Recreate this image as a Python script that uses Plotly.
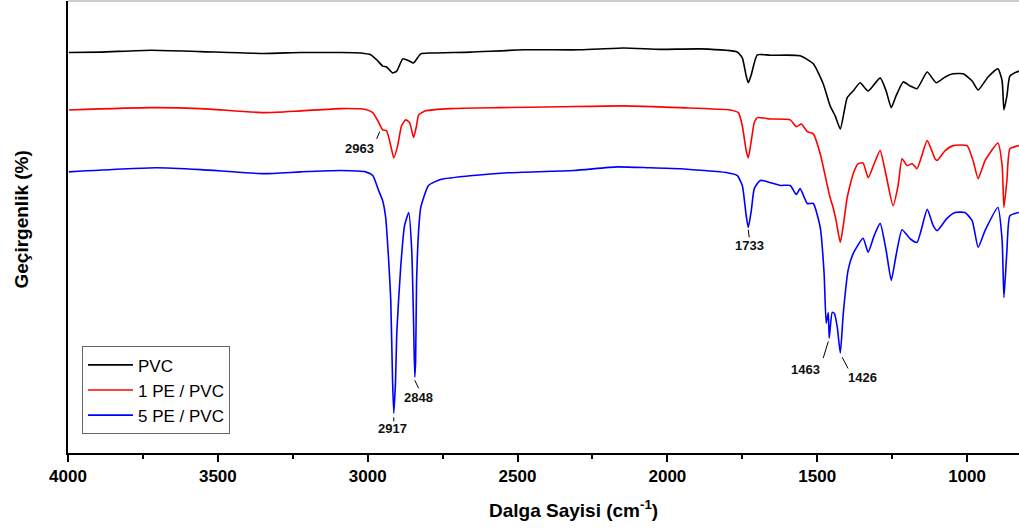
import plotly.graph_objects as go

# Wavenumber (cm-1) and transmittance (a.u.)
pvc_wn = [3997, 3890, 3723, 3557, 3347, 3223, 3090, 3023, 2990, 2967, 2950, 2937, 2917, 2903, 2883, 2863, 2847, 2823, 2790, 2657, 2480, 2290, 2147, 2023, 1890, 1767, 1750, 1737, 1730, 1720, 1700, 1657, 1557, 1513, 1480, 1457, 1440, 1423, 1400, 1380, 1357, 1330, 1290, 1270, 1253, 1237, 1213, 1190, 1167, 1133, 1103, 1073, 1047, 1013, 983, 963, 930, 897, 883, 877, 867, 857, 827]
pvc_t = [88.6, 88.7, 89.1, 88.8, 88.4, 88.6, 88.6, 88.5, 88.1, 86.8, 85.6, 85.4, 84.1, 84.5, 87.2, 86.8, 86.3, 88.3, 88.5, 88.7, 89.2, 89.2, 89.6, 89.3, 89.4, 88.7, 87.4, 83.4, 81.9, 83.7, 88.1, 88.0, 87.9, 86.1, 81.7, 76.8, 74.6, 71.7, 78.6, 80.1, 81.9, 80.1, 83.0, 80.1, 76.4, 79.0, 82.1, 81.2, 80.6, 84.3, 81.9, 83.2, 83.9, 83.9, 82.3, 80.3, 83.2, 85.0, 82.3, 75.9, 79.0, 83.4, 84.5]

pe1_wn = [3997, 3723, 3557, 3347, 3223, 3090, 3007, 2983, 2963, 2950, 2937, 2923, 2913, 2900, 2887, 2873, 2860, 2847, 2837, 2830, 2807, 2723, 2557, 2357, 2147, 1957, 1790, 1763, 1750, 1737, 1730, 1720, 1710, 1700, 1657, 1590, 1570, 1553, 1533, 1513, 1490, 1470, 1457, 1447, 1437, 1423, 1413, 1400, 1380, 1363, 1347, 1330, 1310, 1290, 1270, 1247, 1230, 1217, 1200, 1183, 1167, 1133, 1107, 1100, 1073, 1047, 1000, 980, 963, 940, 897, 883, 877, 867, 857, 827]
pe1_t = [75.9, 76.4, 76.2, 75.3, 75.7, 76.2, 76.0, 75.3, 73.1, 71.5, 71.3, 68.0, 65.3, 68.0, 72.4, 73.7, 73.1, 69.8, 72.4, 74.8, 75.7, 76.2, 76.4, 76.6, 76.8, 76.4, 75.9, 75.3, 72.4, 66.9, 65.3, 69.1, 73.1, 74.2, 73.9, 73.7, 72.2, 72.8, 71.1, 70.6, 66.2, 60.3, 56.5, 54.3, 51.4, 46.6, 50.3, 56.5, 61.8, 64.0, 64.2, 60.9, 64.0, 66.9, 61.4, 54.7, 59.2, 65.1, 63.6, 64.0, 62.9, 69.1, 65.1, 64.7, 66.9, 68.0, 68.0, 64.7, 60.7, 64.7, 68.6, 63.6, 54.3, 60.3, 67.3, 68.0]

pe5_wn = [3997, 3707, 3557, 3347, 3223, 3090, 3007, 2983, 2963, 2950, 2940, 2930, 2923, 2917, 2913, 2907, 2903, 2890, 2877, 2863, 2853, 2847, 2843, 2840, 2837, 2830, 2823, 2797, 2757, 2647, 2533, 2313, 2167, 2057, 1957, 1800, 1767, 1750, 1737, 1730, 1720, 1710, 1690, 1623, 1590, 1570, 1557, 1533, 1513, 1490, 1477, 1470, 1463, 1460, 1450, 1443, 1433, 1423, 1413, 1397, 1380, 1347, 1330, 1310, 1290, 1270, 1253, 1237, 1217, 1190, 1167, 1133, 1113, 1100, 1067, 1040, 1007, 983, 963, 940, 897, 883, 877, 867, 857, 827]
pe5_t = [62.2, 63.1, 62.7, 61.8, 62.2, 62.5, 62.2, 61.4, 58.0, 55.8, 52.1, 42.6, 33.8, 16.1, 8.8, 16.1, 26.5, 41.0, 50.3, 53.2, 44.8, 29.3, 16.8, 20.5, 37.5, 49.2, 54.3, 59.2, 60.5, 61.4, 62.0, 62.5, 63.3, 63.1, 62.9, 62.0, 61.4, 59.2, 52.5, 49.9, 53.6, 58.5, 60.3, 59.2, 59.2, 57.2, 58.5, 55.2, 55.2, 49.9, 39.7, 28.7, 31.1, 25.4, 31.1, 30.9, 27.8, 22.1, 30.9, 40.4, 44.1, 47.5, 44.4, 48.1, 50.8, 44.8, 38.2, 43.7, 49.4, 47.4, 46.6, 53.9, 50.3, 49.2, 51.9, 53.2, 53.2, 51.4, 45.5, 49.2, 54.3, 47.0, 34.4, 44.8, 52.5, 53.2]

# Peak labels: text, text position, leader line (start, end)
peak_labels = ["2963", "2917", "2848", "1733", "1463", "1426"]
label_wn = [3027, 2917, 2830, 1727, 1540, 1350]
label_t = [67.3, 5.5, 12.3, 45.9, 18.5, 16.8]
leader_wn0 = [2970, 2913, 2843, 1730, 1463, 1417]
leader_t0 = [69.5, 7.9, 16.1, 49.4, 24.7, 21.2]
leader_wn1 = [2960, 2913, 2830, 1727, 1480, 1397]
leader_t1 = [71.1, 7.0, 14.3, 47.7, 21.0, 18.7]

series_names = ["PVC", "1 PE / PVC", "5 PE / PVC"]
series_colors = ["#000000", "#ff0000", "#0000ff"]

FONT = "Arial, Liberation Sans"

fig = go.Figure()
for name, color, xs, ys in zip(series_names, series_colors,
                               [pvc_wn, pe1_wn, pe5_wn], [pvc_t, pe1_t, pe5_t]):
    fig.add_trace(go.Scatter(x=xs, y=ys, mode="lines", name=name,
                             line=dict(color=color, width=1.6, shape="spline", smoothing=0.5)))

for txt, x, y in zip(peak_labels, label_wn, label_t):
    fig.add_annotation(x=x, y=y, text=f"<b>{txt}</b>", showarrow=False,
                       font=dict(family=FONT, size=13, color="#111"),
                       xref="x", yref="y")
for x0, y0, x1, y1 in zip(leader_wn0, leader_t0, leader_wn1, leader_t1):
    fig.add_shape(type="line", x0=x0, y0=y0, x1=x1, y1=y1, xref="x", yref="y",
                  line=dict(color="#000", width=1))

# axis titles
fig.add_annotation(x=0.532, y=-0.1236, xref="paper", yref="paper", showarrow=False,
                   xanchor="center", yanchor="middle",
                   text="<b>Dalga Sayisi (cm<sup>-1</sup>)</b>",
                   font=dict(family=FONT, size=19, color="#000"))
fig.add_annotation(x=-0.0494, y=0.5166, xref="paper", yref="paper", showarrow=False,
                   xanchor="center", yanchor="middle",
                   text="<b>Geçirgenlik (%)</b>", textangle=-90,
                   font=dict(family=FONT, size=19, color="#000"))

# top frame line
fig.add_shape(type="line", x0=0, x1=1, y0=1, y1=1, xref="paper", yref="paper",
              line=dict(color="#bbbbbb", width=1.5))

fig.update_layout(
    width=1019, height=529,
    margin=dict(l=68, r=0, t=1, b=76),
    paper_bgcolor="white", plot_bgcolor="white",
    font=dict(family=FONT, color="#000"),
    showlegend=True,
    legend=dict(x=0.0147, y=0.236, xanchor="left", yanchor="top",
                bgcolor="white", bordercolor="#666", borderwidth=1,
                font=dict(size=17, family=FONT),
                itemwidth=45, tracegroupgap=0),
    xaxis=dict(range=[4000, 826.7], showgrid=False, zeroline=False,
               showline=True, linecolor="#000", linewidth=2,
               ticks="outside", ticklen=7, tickwidth=1.5, tickcolor="#000",
               tickvals=[4000, 3500, 3000, 2500, 2000, 1500, 1000],
               ticktext=["<b>4000</b>", "<b>3500</b>", "<b>3000</b>", "<b>2500</b>", "<b>2000</b>", "<b>1500</b>", "<b>1000</b>"],
               tickfont=dict(size=17),
               minor=dict(tickvals=[3750, 3250, 2750, 2250, 1750, 1250], ticks="outside", ticklen=4, tickwidth=1.5, tickcolor="#000")),
    yaxis=dict(range=[0, 100], showgrid=False, zeroline=False,
               showline=True, linecolor="#000", linewidth=2,
               ticks="", showticklabels=False),
)

fig.write_html("out.html")
